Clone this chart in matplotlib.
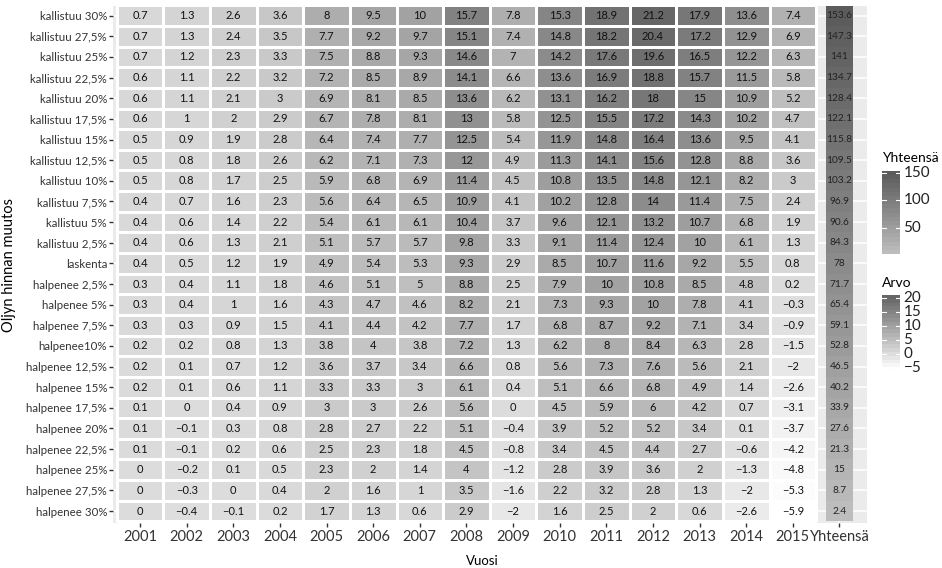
import numpy as np
import matplotlib
matplotlib.use("Agg")
import matplotlib.pyplot as plt
from matplotlib.colors import ListedColormap, Normalize

plt.rcParams['font.family'] = ['Lato', 'DejaVu Sans']

years = [str(y) for y in range(2001, 2016)]
rows = ["kallistuu 30%", "kallistuu 27,5%", "kallistuu 25%", "kallistuu 22,5%",
        "kallistuu 20%", "kallistuu 17,5%", "kallistuu 15%", "kallistuu 12,5%",
        "kallistuu 10%", "kallistuu 7,5%", "kallistuu 5%", "kallistuu 2,5%",
        "laskenta", "halpenee 2,5%", "halpenee 5%", "halpenee 7,5%",
        "halpenee10%", "halpenee 12,5%", "halpenee 15%", "halpenee 17,5%",
        "halpenee 20%", "halpenee 22,5%", "halpenee 25%", "halpenee 27,5%",
        "halpenee 30%"]

values = [
    [0.7, 1.3, 2.6, 3.6, 8, 9.5, 10, 15.7, 7.8, 15.3, 18.9, 21.2, 17.9, 13.6, 7.4],
    [0.7, 1.3, 2.4, 3.5, 7.7, 9.2, 9.7, 15.1, 7.4, 14.8, 18.2, 20.4, 17.2, 12.9, 6.9],
    [0.7, 1.2, 2.3, 3.3, 7.5, 8.8, 9.3, 14.6, 7, 14.2, 17.6, 19.6, 16.5, 12.2, 6.3],
    [0.6, 1.1, 2.2, 3.2, 7.2, 8.5, 8.9, 14.1, 6.6, 13.6, 16.9, 18.8, 15.7, 11.5, 5.8],
    [0.6, 1.1, 2.1, 3, 6.9, 8.1, 8.5, 13.6, 6.2, 13.1, 16.2, 18, 15, 10.9, 5.2],
    [0.6, 1, 2, 2.9, 6.7, 7.8, 8.1, 13, 5.8, 12.5, 15.5, 17.2, 14.3, 10.2, 4.7],
    [0.5, 0.9, 1.9, 2.8, 6.4, 7.4, 7.7, 12.5, 5.4, 11.9, 14.8, 16.4, 13.6, 9.5, 4.1],
    [0.5, 0.8, 1.8, 2.6, 6.2, 7.1, 7.3, 12, 4.9, 11.3, 14.1, 15.6, 12.8, 8.8, 3.6],
    [0.5, 0.8, 1.7, 2.5, 5.9, 6.8, 6.9, 11.4, 4.5, 10.8, 13.5, 14.8, 12.1, 8.2, 3],
    [0.4, 0.7, 1.6, 2.3, 5.6, 6.4, 6.5, 10.9, 4.1, 10.2, 12.8, 14, 11.4, 7.5, 2.4],
    [0.4, 0.6, 1.4, 2.2, 5.4, 6.1, 6.1, 10.4, 3.7, 9.6, 12.1, 13.2, 10.7, 6.8, 1.9],
    [0.4, 0.6, 1.3, 2.1, 5.1, 5.7, 5.7, 9.8, 3.3, 9.1, 11.4, 12.4, 10, 6.1, 1.3],
    [0.4, 0.5, 1.2, 1.9, 4.9, 5.4, 5.3, 9.3, 2.9, 8.5, 10.7, 11.6, 9.2, 5.5, 0.8],
    [0.3, 0.4, 1.1, 1.8, 4.6, 5.1, 5, 8.8, 2.5, 7.9, 10, 10.8, 8.5, 4.8, 0.2],
    [0.3, 0.4, 1, 1.6, 4.3, 4.7, 4.6, 8.2, 2.1, 7.3, 9.3, 10, 7.8, 4.1, -0.3],
    [0.3, 0.3, 0.9, 1.5, 4.1, 4.4, 4.2, 7.7, 1.7, 6.8, 8.7, 9.2, 7.1, 3.4, -0.9],
    [0.2, 0.2, 0.8, 1.3, 3.8, 4, 3.8, 7.2, 1.3, 6.2, 8, 8.4, 6.3, 2.8, -1.5],
    [0.2, 0.1, 0.7, 1.2, 3.6, 3.7, 3.4, 6.6, 0.8, 5.6, 7.3, 7.6, 5.6, 2.1, -2],
    [0.2, 0.1, 0.6, 1.1, 3.3, 3.3, 3, 6.1, 0.4, 5.1, 6.6, 6.8, 4.9, 1.4, -2.6],
    [0.1, 0, 0.4, 0.9, 3, 3, 2.6, 5.6, 0, 4.5, 5.9, 6, 4.2, 0.7, -3.1],
    [0.1, -0.1, 0.3, 0.8, 2.8, 2.7, 2.2, 5.1, -0.4, 3.9, 5.2, 5.2, 3.4, 0.1, -3.7],
    [0.1, -0.1, 0.2, 0.6, 2.5, 2.3, 1.8, 4.5, -0.8, 3.4, 4.5, 4.4, 2.7, -0.6, -4.2],
    [0, -0.2, 0.1, 0.5, 2.3, 2, 1.4, 4, -1.2, 2.8, 3.9, 3.6, 2, -1.3, -4.8],
    [0, -0.3, 0, 0.4, 2, 1.6, 1, 3.5, -1.6, 2.2, 3.2, 2.8, 1.3, -2, -5.3],
    [0, -0.4, -0.1, 0.2, 1.7, 1.3, 0.6, 2.9, -2, 1.6, 2.5, 2, 0.6, -2.6, -5.9],
]

totals = [153.6, 147.3, 141, 134.7, 128.4, 122.1, 115.8, 109.5, 103.2, 96.9,
          90.6, 84.3, 78, 71.7, 65.4, 59.1, 52.8, 46.5, 40.2, 33.9, 27.6,
          21.3, 15, 8.7, 2.4]

total_ticks = [50, 100, 150]
value_ticks = [-5, 0, 5, 10, 15, 20]


def fmt(v):
    return f"{v:g}".replace('-', '\u2212')


def grey_to_L(v):
    c = v / 255.0
    lin = c / 12.92 if c <= 0.04045 else ((c + 0.055) / 1.055) ** 2.4
    f = lin ** (1 / 3) if lin > 0.008856 else 7.787 * lin + 16 / 116
    return 116 * f - 16


def L_to_grey(L):
    fy = (L + 16) / 116
    y = fy ** 3 if fy ** 3 > 0.008856 else (fy - 16 / 116) / 7.787
    c = 1.055 * y ** (1 / 2.4) - 0.055 if y > 0.0031308 else 12.92 * y
    return min(max(c, 0), 1)


def grey_cmap(low, high, n=256):
    # interpolate in Lab lightness, like ggplot does
    l0, l1 = grey_to_L(low), grey_to_L(high)
    g = [L_to_grey(l0 + (l1 - l0) * t) for t in np.linspace(0, 1, n)]
    return ListedColormap([(v, v, v) for v in g])


cmap_main = grey_cmap(255, 0x66)
cmap_tot = grey_cmap(0xBD, 0x5C)

vals = np.array(values)
tots = np.array(totals)
norm_main = Normalize(vals.min(), vals.max())
norm_tot = Normalize(tots.min(), tots.max())

W, H = 942, 568
fig = plt.figure(figsize=(W / 100, H / 100), dpi=100)


def px_axes(l, t, r, b):
    return fig.add_axes([l / W, 1 - b / H, (r - l) / W, (b - t) / H])


ax = px_axes(113, 6, 867, 523)
ax.set_facecolor('#EBEBEB')
n = len(rows)
ax.set_xlim(0.42, 16.59)
ax.set_ylim(0.42, n + 0.47)

for x in range(1, 17):
    ax.axvline(x, color='white', lw=1.1, zorder=0.5)
for y in range(1, n + 1):
    ax.axhline(y, color='white', lw=1.1, zorder=0.5)

xe = np.arange(0.5, len(years) + 1)
ye = np.arange(0.5, n + 1)
ax.pcolormesh(xe, ye, vals[::-1], cmap=cmap_main, norm=norm_main,
              edgecolors='white', linewidth=0.8, zorder=1)
ax.pcolormesh([15.72, 16.28], ye, tots[::-1, None], cmap=cmap_tot,
              norm=norm_tot, edgecolors='none', zorder=1)

for i, row in enumerate(values):
    y = n - i
    for j, v in enumerate(row):
        ax.text(j + 1, y, fmt(v), ha='center', va='center',
                fontsize=8, color='#111111', zorder=2)
    ax.text(16, y, fmt(totals[i]), ha='center', va='center',
            fontsize=7.3, color='#222222', zorder=2)

ax.set_xticks(range(1, 17))
ax.set_xticklabels(years + ['Yhteensä'], fontsize=10.5, color='#333333')
ax.set_yticks(range(n, 0, -1))
ax.set_yticklabels(rows, fontsize=8.3, color='#333333')
ax.tick_params(axis='both', length=2.8, width=1, color='#333333')
ax.tick_params(axis='x', pad=2)
ax.tick_params(axis='y', pad=1.5)
for s in ax.spines.values():
    s.set_visible(False)

fig.text(482 / W, 1 - 561 / H, 'Vuosi', ha='center', va='center', fontsize=9.5)
fig.text(8 / W, 1 - 265 / H, 'Öljyn hinnan muutos', ha='center', va='center',
         rotation=90, fontsize=10.5)


def colorbar(top, bottom, title, title_y, cmap, norm, ticks):
    cax = px_axes(882, top, 900, bottom)
    levels = np.linspace(norm.vmin, norm.vmax, 20)[:, None]
    cax.imshow(levels, cmap=cmap, norm=norm, aspect='auto', origin='lower',
               extent=[0, 1, norm.vmin, norm.vmax], interpolation='nearest')
    cax.set_xlim(0, 1)
    cax.set_ylim(norm.vmin, norm.vmax)
    for t in ticks:
        cax.plot([0, 0.2], [t, t], color='white', lw=0.8)
        cax.plot([0.8, 1], [t, t], color='white', lw=0.8)
        cax.text(1.2, t, fmt(t), transform=cax.get_yaxis_transform(),
                 ha='left', va='center', fontsize=11, color='#222222')
    cax.set_xticks([])
    cax.set_yticks([])
    for s in cax.spines.values():
        s.set_visible(False)
    fig.text(882 / W, 1 - title_y / H, title, ha='left', va='center',
             fontsize=10)


colorbar(171, 254, 'Yhteensä', 158, cmap_tot, norm_tot, total_ticks)
colorbar(295, 371, 'Arvo', 283, cmap_main, norm_main, value_ticks)

fig.savefig('out.png', dpi=100)
